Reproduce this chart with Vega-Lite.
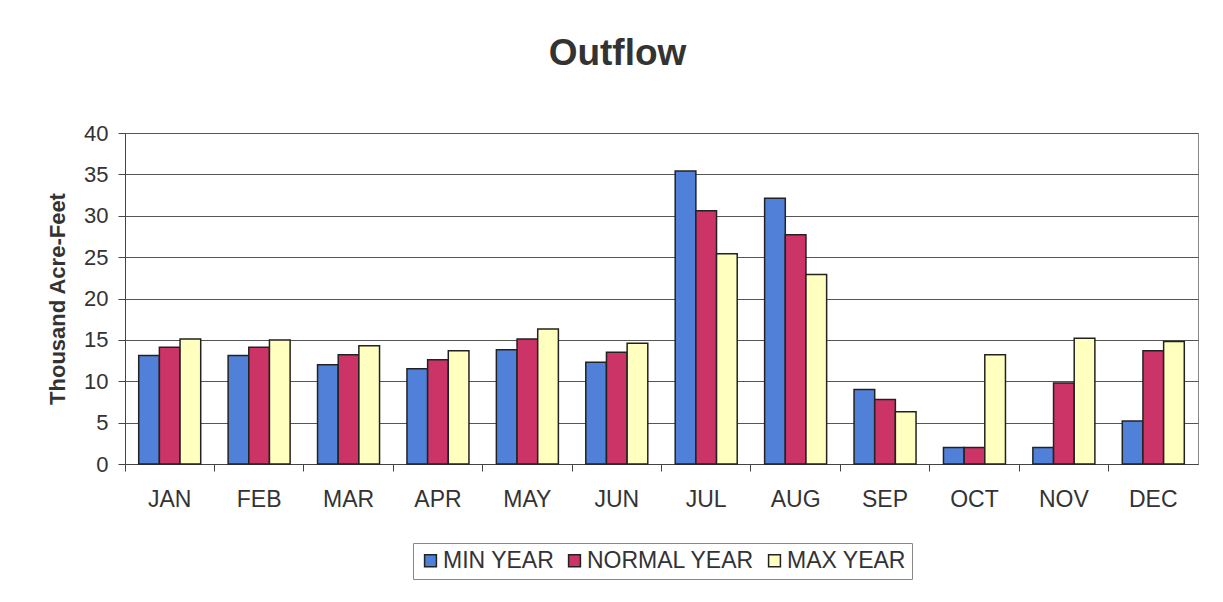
{
  "$schema": "https://vega.github.io/schema/vega-lite/v6.json",
  "width": 1073,
  "height": 331,
  "autosize": {"type": "none"},
  "padding": {"left": 125, "top": 133, "right": 25, "bottom": 138},
  "background": "white",
  "title": {"text": "Outflow", "fontSize": 37, "font": "Liberation Sans", "fontWeight": "bold", "color": "#333333", "anchor": "middle", "frame": "group", "baseline": "alphabetic", "offset": 20, "dx": -44},
  "data": {"values": [
    {"month": "JAN", "series": "MIN YEAR", "value": 13.1},
    {"month": "JAN", "series": "NORMAL YEAR", "value": 14.1},
    {"month": "JAN", "series": "MAX YEAR", "value": 15.1},
    {"month": "FEB", "series": "MIN YEAR", "value": 13.1},
    {"month": "FEB", "series": "NORMAL YEAR", "value": 14.1},
    {"month": "FEB", "series": "MAX YEAR", "value": 15.0},
    {"month": "MAR", "series": "MIN YEAR", "value": 12.0},
    {"month": "MAR", "series": "NORMAL YEAR", "value": 13.2},
    {"month": "MAR", "series": "MAX YEAR", "value": 14.3},
    {"month": "APR", "series": "MIN YEAR", "value": 11.5},
    {"month": "APR", "series": "NORMAL YEAR", "value": 12.6},
    {"month": "APR", "series": "MAX YEAR", "value": 13.7},
    {"month": "MAY", "series": "MIN YEAR", "value": 13.8},
    {"month": "MAY", "series": "NORMAL YEAR", "value": 15.1},
    {"month": "MAY", "series": "MAX YEAR", "value": 16.3},
    {"month": "JUN", "series": "MIN YEAR", "value": 12.3},
    {"month": "JUN", "series": "NORMAL YEAR", "value": 13.5},
    {"month": "JUN", "series": "MAX YEAR", "value": 14.6},
    {"month": "JUL", "series": "MIN YEAR", "value": 35.4},
    {"month": "JUL", "series": "NORMAL YEAR", "value": 30.6},
    {"month": "JUL", "series": "MAX YEAR", "value": 25.4},
    {"month": "AUG", "series": "MIN YEAR", "value": 32.1},
    {"month": "AUG", "series": "NORMAL YEAR", "value": 27.7},
    {"month": "AUG", "series": "MAX YEAR", "value": 22.9},
    {"month": "SEP", "series": "MIN YEAR", "value": 9.0},
    {"month": "SEP", "series": "NORMAL YEAR", "value": 7.8},
    {"month": "SEP", "series": "MAX YEAR", "value": 6.3},
    {"month": "OCT", "series": "MIN YEAR", "value": 2.0},
    {"month": "OCT", "series": "NORMAL YEAR", "value": 2.0},
    {"month": "OCT", "series": "MAX YEAR", "value": 13.2},
    {"month": "NOV", "series": "MIN YEAR", "value": 2.0},
    {"month": "NOV", "series": "NORMAL YEAR", "value": 9.8},
    {"month": "NOV", "series": "MAX YEAR", "value": 15.2},
    {"month": "DEC", "series": "MIN YEAR", "value": 5.2},
    {"month": "DEC", "series": "NORMAL YEAR", "value": 13.7},
    {"month": "DEC", "series": "MAX YEAR", "value": 14.8}
  ]},
  "mark": {"type": "bar", "stroke": "#222222", "strokeWidth": 1.5},
  "encoding": {
    "x": {
      "field": "month", "type": "nominal", "sort": null,
      "scale": {"paddingInner": 0, "paddingOuter": 0},
      "axis": {"title": null, "labelAngle": 0, "labelFontSize": 23, "labelColor": "#333333", "labelFont": "Liberation Sans", "tickSize": 7, "tickColor": "#444444", "domainColor": "#444444", "bandPosition": 0, "labelPadding": 17, "grid": false}
    },
    "xOffset": {
      "field": "series", "type": "nominal", "sort": ["MIN YEAR", "NORMAL YEAR", "MAX YEAR"],
      "scale": {"paddingInner": 0, "paddingOuter": 0.663}
    },
    "y": {
      "field": "value", "type": "quantitative",
      "scale": {"domain": [0, 40]},
      "axis": {"title": "Thousand Acre-Feet", "titleFontSize": 22, "titleFont": "Liberation Sans", "titleFontWeight": "bold", "titleColor": "#333333", "values": [0, 5, 10, 15, 20, 25, 30, 35, 40], "labelFontSize": 22, "labelFont": "Liberation Sans", "labelColor": "#333333", "tickSize": 7, "labelPadding": 10, "titlePadding": 14, "gridColor": "#555555", "gridWidth": 1, "domainColor": "#444444", "tickColor": "#444444"}
    },
    "color": {
      "field": "series", "type": "nominal",
      "scale": {"domain": ["MIN YEAR", "NORMAL YEAR", "MAX YEAR"], "range": ["#5080D8", "#CC3366", "#FFFFC0"]},
      "legend": {"title": null, "orient": "none", "legendX": 288, "legendY": 410, "direction": "horizontal", "strokeColor": "#888888", "padding": 6, "symbolType": "square", "symbolSize": 140, "symbolStrokeColor": "#222222", "symbolStrokeWidth": 1.5, "symbolOpacity": 1, "labelFontSize": 23, "labelFont": "Liberation Sans", "labelColor": "#333333", "labelOffset": 1, "labelLimit": 400, "columnPadding": 8}
    }
  },
  "config": {
    "view": {"stroke": "#888888"}
  }
}
